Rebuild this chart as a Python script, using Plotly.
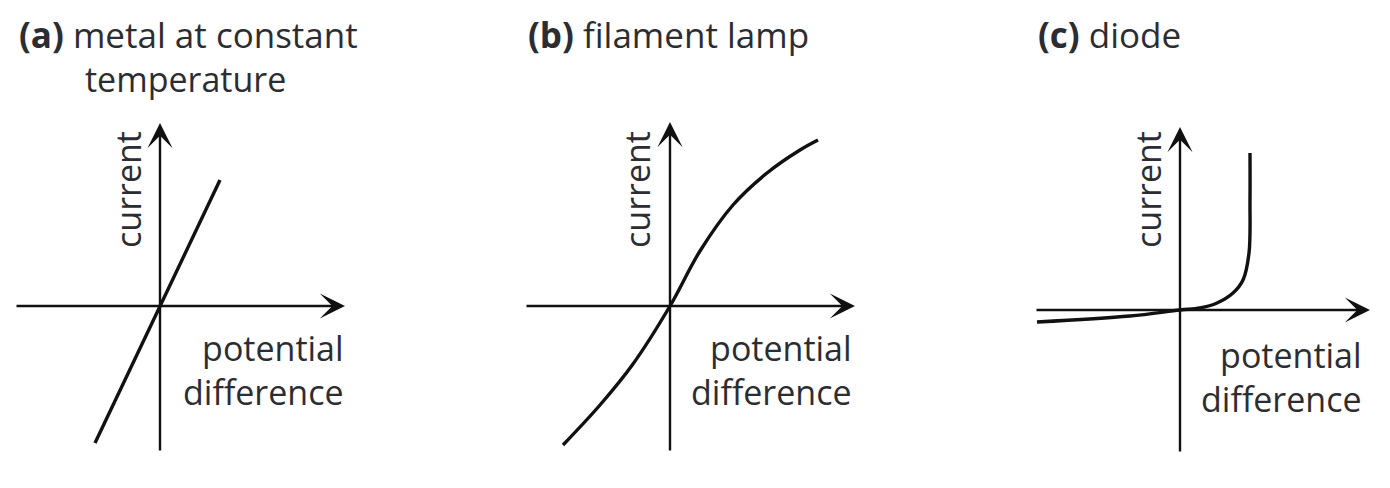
import plotly.graph_objects as go

# ---------------- data (arbitrary units) ----------------
# (a) metal at constant temperature: straight line through origin
a_pd = [-0.65, 0.60]
a_cur = [-1.37, 1.26]

# (b) filament lamp: S-shaped curve
b_pd = [-1.07, -0.70, -0.37, 0.0, 0.30, 0.63, 0.97, 1.30, 1.48]
b_cur = [-1.39, -0.99, -0.58, 0.0, 0.55, 1.01, 1.33, 1.56, 1.66]

# (c) diode
c_pd = [-1.43, -0.50, 0.0, 0.20, 0.37, 0.53, 0.63, 0.69, 0.70, 0.70]
c_cur = [-0.12, -0.06, 0.0, 0.02, 0.07, 0.17, 0.30, 0.57, 1.10, 1.57]

titles = [("(a)", "metal at constant", "temperature"),
          ("(b)", "filament lamp", None),
          ("(c)", "diode", None)]
y_label = "current"
x_label = "potential<br>difference"

# ---------------- layout constants ----------------
W, H = 1390, 488
FONT = "Open Sans"
TXT = "#2b2d33"
INK = "#111111"
FS = 34
SCALE = 100.0  # pixels per unit

panels = [
    dict(ox=160, oy=306, px0=0, px1=420, hx=(-1.45, 1.85), vy=(-1.46, 1.83),
         lab_x=-0.32, lab_y=1.16, pdx=1.86, pdy=-0.635, tx=17, tx2=83),
    dict(ox=670, oy=306, px0=480, px1=900, hx=(-1.45, 1.85), vy=(-1.46, 1.84),
         lab_x=-0.33, lab_y=1.16, pdx=1.84, pdy=-0.635, tx=526, tx2=None),
    dict(ox=1180, oy=310, px0=1000, px1=1390, hx=(-1.45, 1.90), vy=(-1.43, 1.83),
         lab_x=-0.32, lab_y=1.20, pdx=1.84, pdy=-0.665, tx=1036, tx2=None),
]
PY0, PY1 = 100, 480

series = [(a_pd, a_cur), (b_pd, b_cur), (c_pd, c_cur)]

fig = go.Figure()
annotations = []
layout_axes = {}

for k, (p, (xs, ys)) in enumerate(zip(panels, series)):
    n = "" if k == 0 else str(k + 1)
    xa, ya = "x" + n, "y" + n
    fig.add_trace(go.Scatter(x=xs, y=ys, mode="lines", xaxis=xa, yaxis=ya,
                             line=dict(color=INK, width=3.4, shape="spline", smoothing=1.0),
                             hoverinfo="skip", showlegend=False))
    xr = [(p["px0"] - p["ox"]) / SCALE, (p["px1"] - p["ox"]) / SCALE]
    yr = [(p["oy"] - PY1) / SCALE, (p["oy"] - PY0) / SCALE]
    layout_axes["xaxis" + n] = dict(domain=[p["px0"] / W, p["px1"] / W], range=xr,
                                    visible=False, anchor=ya, fixedrange=True)
    layout_axes["yaxis" + n] = dict(domain=[1 - PY1 / H, 1 - PY0 / H], range=yr,
                                    visible=False, anchor=xa, fixedrange=True)
    arrow = dict(xref=xa, yref=ya, axref=xa, ayref=ya, text="", showarrow=True,
                 arrowhead=3, arrowsize=1.75, arrowwidth=2.4, arrowcolor=INK, standoff=0)
    annotations.append(dict(arrow, x=p["hx"][1], y=0, ax=p["hx"][0], ay=0))
    annotations.append(dict(arrow, x=0, y=p["vy"][1], ax=0, ay=p["vy"][0]))
    annotations.append(dict(xref=xa, yref=ya, x=p["lab_x"], y=p["lab_y"], text=y_label,
                            textangle=-90, showarrow=False, xanchor="center", yanchor="middle",
                            font=dict(family=FONT, size=FS, color=TXT)))
    annotations.append(dict(xref=xa, yref=ya, x=p["pdx"], y=p["pdy"], text=x_label,
                            showarrow=False, xanchor="right", yanchor="middle", align="right",
                            font=dict(family=FONT, size=FS, color=TXT)))
    tag, line1, line2 = titles[k]
    annotations.append(dict(xref="paper", yref="paper", x=p["tx"] / W, y=1 - 34 / H,
                            text="<b>" + tag + "</b> " + line1, showarrow=False,
                            xanchor="left", yanchor="middle",
                            font=dict(family=FONT, size=FS + 1, color=TXT)))
    if line2:
        annotations.append(dict(xref="paper", yref="paper", x=p["tx2"] / W, y=1 - 79 / H,
                                text=line2, showarrow=False, xanchor="left", yanchor="middle",
                                font=dict(family=FONT, size=FS, color=TXT)))

fig.update_layout(width=W, height=H, margin=dict(l=0, r=0, t=0, b=0),
                  paper_bgcolor="white", plot_bgcolor="white",
                  annotations=annotations, **layout_axes)

fig.write_html("out.html", config={"displayModeBar": False},
               post_script="document.body.style.margin='0';document.body.style.overflow='hidden';")
